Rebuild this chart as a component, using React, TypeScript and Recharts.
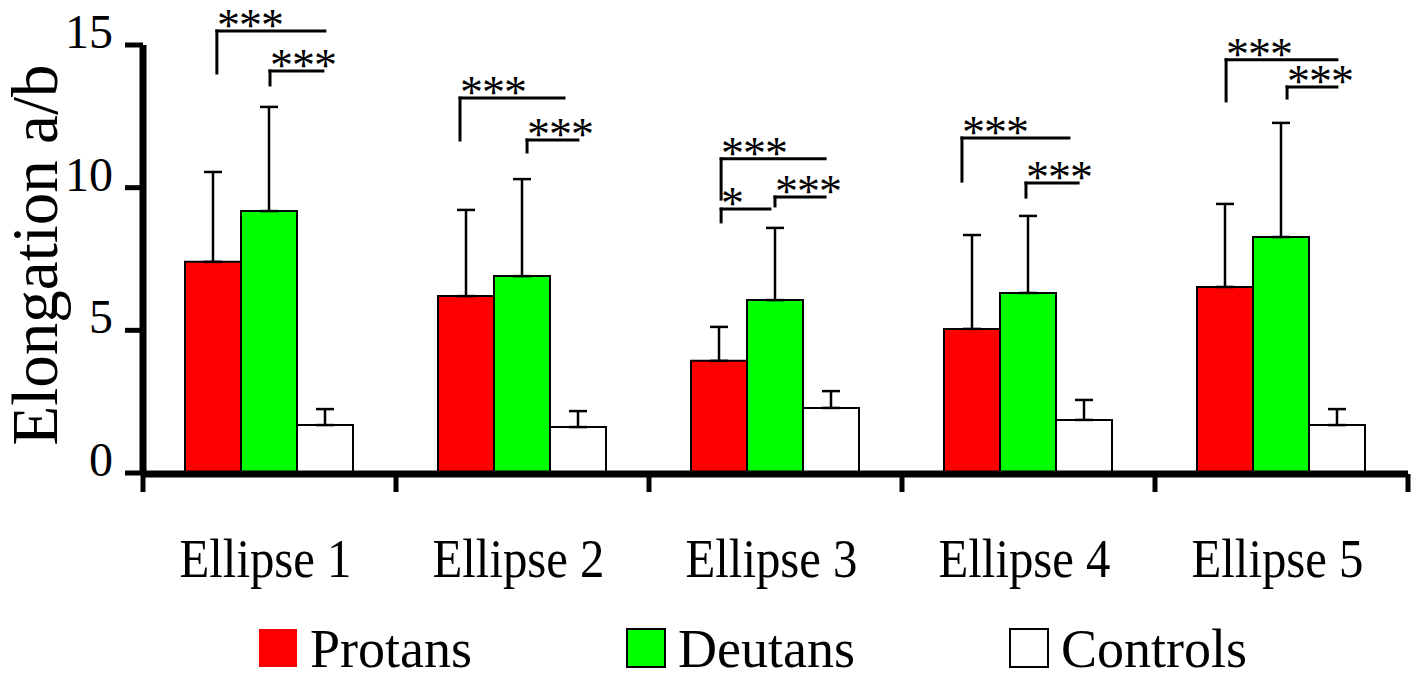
import React from 'react';
import {
  ComposedChart,
  Bar,
  XAxis,
  YAxis,
  ErrorBar,
  ReferenceLine,
  ReferenceDot,
  Legend,
} from 'recharts';

const FONT = "'Liberation Serif', 'Times New Roman', Times, serif";

// ---- data ----
const categories = ['Ellipse 1', 'Ellipse 2', 'Ellipse 3', 'Ellipse 4', 'Ellipse 5'];
const protans = [7.40, 6.20, 3.93, 5.05, 6.52];
const protansErr = [3.15, 3.02, 1.19, 3.29, 2.91];
const deutans = [9.18, 6.90, 6.06, 6.31, 8.27];
const deutansErr = [3.65, 3.40, 2.53, 2.70, 4.00];
const controls = [1.68, 1.61, 2.28, 1.86, 1.68];
const controlsErr = [0.56, 0.56, 0.59, 0.70, 0.56];

const yTicks = [0, 5, 10, 15];
const boundaryTicks = [0, 1, 2, 3, 4, 5];

const seriesNames = ['Protans', 'Deutans', 'Controls'];
const seriesColors = ['#ff0000', '#00ff00', '#ffffff'];

// significance brackets (x in category units on a 0..5 scale, y in data units)
const bracketX1 = [0.292, 0.502, 1.253, 1.518, 2.285, 2.285, 2.498, 3.237, 3.490, 4.281, 4.522];
const bracketX2 = [0.719, 0.711, 1.664, 1.719, 2.696, 2.478, 2.696, 3.660, 3.696, 4.719, 4.719];
const bracketTop = [15.49, 14.09, 13.14, 11.67, 11.01, 9.25, 9.67, 11.74, 10.16, 14.48, 13.53];
const bracketFoot = [14.02, 13.60, 11.67, 11.25, 9.60, 8.80, 9.36, 10.23, 9.67, 13.04, 13.14];
const bracketMark = ['***', '***', '***', '***', '***', '*', '***', '***', '***', '***', '***'];

const data = categories.map((name, i) => ({
  name,
  slot: i,
  protans: protans[i],
  protansErr: [0, protansErr[i]],
  deutans: deutans[i],
  deutansErr: [0, deutansErr[i]],
  controls: controls[i],
  controlsErr: [0, controlsErr[i]],
}));

const EmptyTick = () => <g />;

const XTick = (props: any) => {
  const { x, y, payload } = props;
  return (
    <text
      x={x - 4}
      y={y + 104}
      textAnchor="middle"
      fontFamily={FONT}
      fontSize={55}
      textLength={172}
      lengthAdjust="spacingAndGlyphs"
      fill="#000"
    >
      {payload.value}
    </text>
  );
};

const YTick = (props: any) => {
  const { x, y, payload } = props;
  return (
    <text x={x} y={y + 3} textAnchor="end" fontFamily={FONT} fontSize={48} fill="#000">
      {payload.value}
    </text>
  );
};

const YLabel = (props: any) => {
  const vb = props.viewBox || { x: 0, y: 45, width: 143, height: 428 };
  const cx = vb.x + 57;
  const cy = vb.y + vb.height / 2 - 4;
  return (
    <text
      x={cx}
      y={cy}
      transform={`rotate(-90 ${cx} ${cy})`}
      textAnchor="middle"
      fontFamily={FONT}
      fontSize={65}
      fill="#000"
    >
      Elongation a/b
    </text>
  );
};

const legendSquareX = [259, 627, 1010];

const renderLegend = () => (
  <div style={{ position: 'relative', width: 1421, height: 0 }}>
    <svg
      width={1421}
      height={52}
      style={{ position: 'absolute', left: 0, top: 0, overflow: 'visible' }}
    >
      {seriesNames.map((n, i) => (
        <g key={n}>
          <rect
            x={legendSquareX[i]}
            y={9}
            width={38}
            height={38}
            fill={seriesColors[i]}
            stroke={i === 0 ? 'none' : '#000'}
            strokeWidth={2}
          />
          <text
            x={legendSquareX[i] + 51}
            y={47}
            fontFamily={FONT}
            fontSize={54}
            fill="#000"
          >
            {n}
          </text>
        </g>
      ))}
    </svg>
  </div>
);

const renderMark = (mark: string) => (p: any) => (
  <text
    x={p.cx}
    y={p.cy + 10}
    fontFamily={FONT}
    fontSize={46}
    letterSpacing={-1}
    fill="#000"
  >
    {mark}
  </text>
);

export default function App() {
  return (
    <div style={{ position: 'absolute', left: 0, top: 0, width: 1421, height: 679, background: '#fff' }}>
      <ComposedChart
        width={1421}
        height={679}
        data={data}
        margin={{ top: 45, right: 13, left: 0, bottom: 204 }}
        barCategoryGap={42}
        barGap={0}
      >
        <XAxis
          xAxisId="num"
          dataKey="slot"
          type="number"
          domain={[0, 5]}
          ticks={boundaryTicks}
          interval={0}
          allowDataOverflow
          height={1}
          tickSize={18}
          tick={EmptyTick}
          axisLine={{ stroke: '#000', strokeWidth: 7 }}
          tickLine={{ stroke: '#000', strokeWidth: 5 }}
        />
        <XAxis
          xAxisId="cat"
          dataKey="name"
          height={1}
          interval={0}
          axisLine={false}
          tickLine={false}
          tickSize={0}
          tickMargin={0}
          tick={XTick}
        />
        <YAxis
          type="number"
          domain={[0, 15]}
          ticks={yTicks}
          interval={0}
          allowDataOverflow
          width={143}
          tickSize={18}
          tickMargin={12}
          axisLine={{ stroke: '#000', strokeWidth: 7 }}
          tickLine={{ stroke: '#000', strokeWidth: 5 }}
          tick={YTick}
          label={{ content: YLabel }}
        />
        <Bar xAxisId="cat" dataKey="protans" fill={seriesColors[0]} stroke="#000" strokeWidth={2} isAnimationActive={false}>
          <ErrorBar dataKey="protansErr" direction="y" width={9} stroke="#000" strokeWidth={2.5} />
        </Bar>
        <Bar xAxisId="cat" dataKey="deutans" fill={seriesColors[1]} stroke="#000" strokeWidth={2} isAnimationActive={false}>
          <ErrorBar dataKey="deutansErr" direction="y" width={9} stroke="#000" strokeWidth={2.5} />
        </Bar>
        <Bar xAxisId="cat" dataKey="controls" fill={seriesColors[2]} stroke="#000" strokeWidth={2} isAnimationActive={false}>
          <ErrorBar dataKey="controlsErr" direction="y" width={9} stroke="#000" strokeWidth={2.5} />
        </Bar>
        {bracketX1.map((x1, i) => (
          <ReferenceLine
            key={`leg-${i}`}
            xAxisId="num"
            segment={[{ x: x1, y: bracketFoot[i] }, { x: x1, y: bracketTop[i] }]}
            stroke="#000"
            strokeWidth={3}
            strokeLinecap="square"
            ifOverflow="visible"
          />
        ))}
        {bracketX1.map((x1, i) => (
          <ReferenceLine
            key={`bar-${i}`}
            xAxisId="num"
            segment={[{ x: x1, y: bracketTop[i] }, { x: bracketX2[i], y: bracketTop[i] }]}
            stroke="#000"
            strokeWidth={3}
            strokeLinecap="square"
            ifOverflow="visible"
          />
        ))}
        {bracketX1.map((x1, i) => (
          <ReferenceDot
            key={`mark-${i}`}
            xAxisId="num"
            x={x1}
            y={bracketTop[i]}
            r={0}
            ifOverflow="visible"
            shape={renderMark(bracketMark[i])}
          />
        ))}
        <Legend
          content={renderLegend}
          wrapperStyle={{ position: 'absolute', top: 620, left: 0, width: 1421, height: 0, margin: 0, padding: 0 }}
        />
      </ComposedChart>
    </div>
  );
}
